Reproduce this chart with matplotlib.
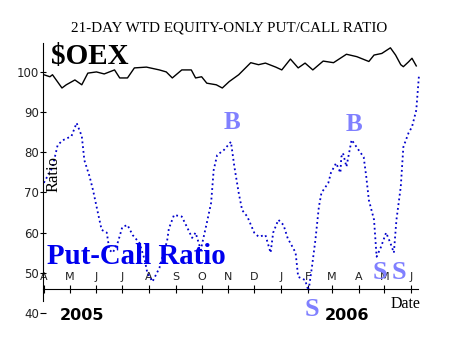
import matplotlib
matplotlib.use("Agg")
import matplotlib.pyplot as plt
import pandas as pd

# 21-day weighted equity-only put/call ratio
pcr_dates = ["2005-04-01", "2005-04-11", "2005-04-17", "2005-04-23", "2005-05-03", "2005-05-09",
             "2005-05-15", "2005-05-18", "2005-05-24", "2005-05-28", "2005-06-02", "2005-06-07",
             "2005-06-13", "2005-06-16", "2005-06-20", "2005-06-26", "2005-07-01", "2005-07-07",
             "2005-07-13", "2005-07-21", "2005-07-27", "2005-07-30", "2005-08-05", "2005-08-13",
             "2005-08-22", "2005-08-24", "2005-08-30", "2005-09-08", "2005-09-14", "2005-09-20",
             "2005-09-24", "2005-09-30", "2005-10-07", "2005-10-12", "2005-10-15", "2005-10-19",
             "2005-10-27", "2005-11-04", "2005-11-08", "2005-11-13", "2005-11-17", "2005-11-23",
             "2005-12-01", "2005-12-06", "2005-12-14", "2005-12-20", "2005-12-23", "2005-12-29",
             "2006-01-04", "2006-01-09", "2006-01-12", "2006-01-18", "2006-01-21", "2006-01-29",
             "2006-02-02", "2006-02-06", "2006-02-10", "2006-02-14", "2006-02-17", "2006-02-25",
             "2006-02-28", "2006-03-06", "2006-03-11", "2006-03-12", "2006-03-14", "2006-03-18",
             "2006-03-24", "2006-04-01", "2006-04-07", "2006-04-10", "2006-04-13", "2006-04-19",
             "2006-04-22", "2006-04-27", "2006-05-03", "2006-05-08", "2006-05-12", "2006-05-15",
             "2006-05-20", "2006-05-23", "2006-05-29", "2006-06-02", "2006-06-07", "2006-06-10"]
pcr_vals = [72.4, 76.3, 81.8, 83.0, 84.0, 87.3,
            84.0, 78.0, 74.0, 70.6, 65.6, 60.7,
            60.0, 55.7, 55.0, 57.7, 61.4, 61.9,
            59.4, 57.4, 53.2, 50.0, 47.8, 51.2,
            58.0, 61.0, 64.4, 64.0, 61.4, 58.7,
            60.0, 55.7, 62.4, 67.4, 75.6, 79.3,
            80.6, 82.6, 76.4, 69.9, 65.6, 64.0,
            60.0, 59.0, 59.4, 55.0, 60.0, 63.2,
            61.9, 58.5, 57.4, 55.0, 49.0, 48.2,
            45.5, 51.5, 58.2, 66.4, 69.9, 72.4,
            74.9, 77.3, 74.9, 78.8, 79.8, 76.4,
            83.1, 80.6, 78.8, 73.9, 68.1, 63.2,
            54.0, 56.4, 60.0, 57.4, 55.0, 63.2,
            71.4, 81.3, 84.8, 86.3, 90.5, 98.8]

# $OEX (scaled) line
oex_dates = ["2005-04-01", "2005-04-08", "2005-04-11", "2005-04-22", "2005-04-27", "2005-05-07",
             "2005-05-15", "2005-05-22", "2005-06-01", "2005-06-10", "2005-06-22", "2005-06-28",
             "2005-07-07", "2005-07-15", "2005-07-29", "2005-08-13", "2005-08-21", "2005-08-28",
             "2005-09-08", "2005-09-19", "2005-09-24", "2005-10-01", "2005-10-07", "2005-10-18",
             "2005-10-25", "2005-11-02", "2005-11-13", "2005-11-27", "2005-12-06", "2005-12-14",
             "2005-12-26", "2006-01-02", "2006-01-12", "2006-01-21", "2006-01-29", "2006-02-07",
             "2006-02-19", "2006-03-03", "2006-03-18", "2006-03-30", "2006-04-13", "2006-04-19",
             "2006-04-28", "2006-05-08", "2006-05-14", "2006-05-20", "2006-05-23", "2006-05-29",
             "2006-06-02", "2006-06-07"]
oex_vals = [99.3, 98.8, 99.3, 96.0, 96.8, 98.0,
            96.8, 99.7, 100.0, 99.5, 100.5, 98.5,
            98.5, 101.0, 101.2, 100.5, 100.0, 98.5,
            100.5, 100.5, 98.5, 98.8, 97.2, 96.8,
            96.0, 97.6, 99.3, 102.3, 101.8, 102.2,
            101.2, 100.5, 103.2, 101.0, 102.2, 100.5,
            102.7, 102.3, 104.4, 103.8, 102.6, 104.2,
            104.6, 106.0, 104.2, 101.8, 101.3, 102.5,
            103.4, 101.5]

month_ticks = pd.date_range("2005-04-01", "2006-06-01", freq="MS")
month_labels = ["A", "M", "J", "J", "A", "S", "O", "N", "D", "J", "F", "M", "A", "M", "J"]
y_ticks = [40, 50, 60, 70, 80, 90, 100]

# buy / sell markers
b_marks = [("2005-11-05", 87.3), ("2006-03-27", 87.0)]
s_marks = [("2006-04-26", 50.0), ("2006-05-18", 50.0), ("2006-02-06", 40.8)]

serif = ["Liberation Serif", "DejaVu Serif"]
light_blue = "#8080ff"

fig = plt.figure(figsize=(4.6, 3.45), dpi=100)
ax = fig.add_axes([43 / 460, 1 - 313 / 345, 375 / 460, 270 / 345])

ax.plot(pd.to_datetime(oex_dates), oex_vals, color="black", lw=1.0)
ax.plot(pd.to_datetime(pcr_dates), pcr_vals, color="#0000cc", lw=1.3, ls=":", clip_on=False)

ax.set_xlim(pd.Timestamp("2005-03-31"), pd.Timestamp("2006-06-09"))
ax.set_ylim(40, 107.2)

for side in ["top", "right"]:
    ax.spines[side].set_visible(False)
ax.spines["bottom"].set_position(("data", 46))
ax.spines["left"].set_bounds(43, 107.2)

ax.set_yticks(y_ticks)
ax.set_yticklabels([str(v) for v in y_ticks], fontsize=8.5, color="#222222")
ax.tick_params(axis="y", direction="inout", length=4, pad=1)

ax.set_xticks(month_ticks)
ax.set_xticklabels(month_labels, fontsize=8, color="#222222")
ax.tick_params(axis="x", direction="inout", length=6, pad=-15)

ax.text(0.029, 0.515, "Ratio", transform=ax.transAxes, rotation=90, family=serif,
        fontsize=12, ha="center", va="center")

for d, v in b_marks:
    ax.text(pd.Timestamp(d), v, "B", family=serif, fontweight="bold", fontsize=18,
            color=light_blue, ha="center", va="center")
for d, v in s_marks:
    ax.text(pd.Timestamp(d), v, "S", family=serif, fontweight="bold", fontsize=19,
            color=light_blue, ha="center", va="center", clip_on=False)

fig.text(229 / 460, 1 - 28 / 345, "21-DAY WTD EQUITY-ONLY PUT/CALL RATIO", family=serif,
         fontsize=10.9, ha="center", va="center")
fig.text(51 / 460, 1 - 56 / 345, "\\$OEX", family=serif, fontweight="bold", fontsize=21,
         ha="left", va="center")
fig.text(47 / 460, 1 - 256 / 345, "Put-Call Ratio", family=serif, fontweight="bold",
         fontsize=20.8, color="#0000ee", ha="left", va="center")
fig.text(82 / 460, 1 - 315 / 345, "2005", fontweight="bold", fontsize=11.5, ha="center", va="center")
fig.text(347 / 460, 1 - 315 / 345, "2006", fontweight="bold", fontsize=11.5, ha="center", va="center")
fig.text(391 / 460, 1 - 304 / 345, "Date", family=serif, fontsize=11.5, ha="left", va="center")

fig.savefig("out.png", dpi=100)
